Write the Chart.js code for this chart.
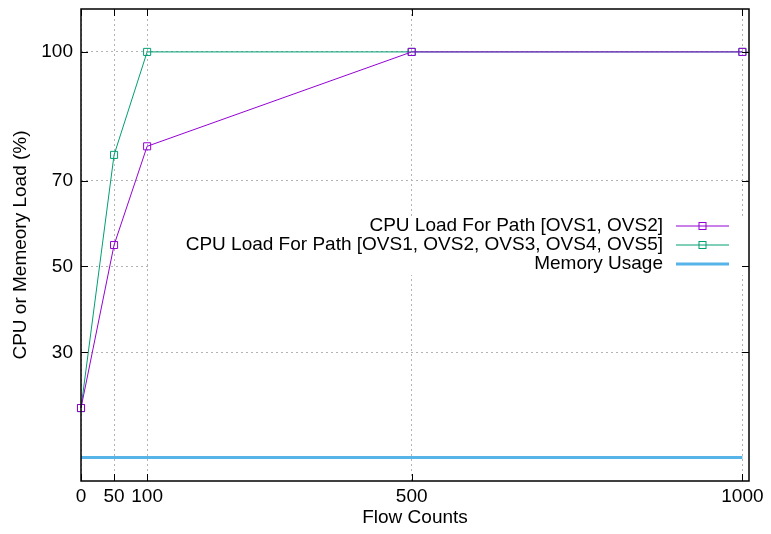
<!DOCTYPE html>
<html>
<head>
<meta charset="utf-8">
<script src="https://cdn.jsdelivr.net/npm/chart.js@4/dist/chart.umd.min.js"></script>
<style>
  html, body { margin: 0; padding: 0; background: #fff; }
  #wrap { width: 771px; height: 534px; }
</style>
</head>
<body>
<div id="wrap"><canvas id="chart" width="771" height="534"></canvas></div>
<script>
// values
const flowCounts = [0, 50, 100, 500, 1000];
const cpuTwoSwitches = [17, 55, 78, 100, 100];
const cpuFiveSwitches = [17, 76, 100, 100, 100];
const memoryUsage = [5.5, 5.5, 5.5, 5.5, 5.5];
const xTicks = [0, 50, 100, 500, 1000];
const yTicks = [30, 50, 70, 100];
const seriesLabels = [
  'CPU Load For Path [OVS1, OVS2]',
  'CPU Load For Path [OVS1, OVS2, OVS3, OVS4, OVS5]',
  'Memory Usage'
];
const seriesColors = ['#9400d3', '#009e73', '#56b4e9'];

const toPoints = (ys) => flowCounts.map((x, i) => ({ x, y: ys[i] }));

Chart.defaults.font.family = '"Liberation Sans", Arial, Helvetica, sans-serif';
Chart.defaults.font.size = 19;
Chart.defaults.color = '#000';

// gnuplot-like key, opaque so it hides the grid behind it
const gnuKey = {
  id: 'gnuKey',
  beforeDatasetsDraw(chart) {
    const { ctx, chartArea: a } = chart;
    const textRight = a.right - 86;
    const sampleL = a.right - 73, sampleR = a.right - 20;
    const rowY = [226, 245, 264];
    ctx.save();
    ctx.font = '19px "Liberation Sans", Arial, Helvetica, sans-serif';
    const widest = Math.max(...seriesLabels.map(t => ctx.measureText(t).width));
    const boxL = textRight - widest - 36;
    ctx.fillStyle = '#fff';
    ctx.fillRect(boxL, rowY[0] - 10, a.right - 4 - boxL, rowY[2] - rowY[0] + 21);
    ctx.textAlign = 'right';
    ctx.textBaseline = 'middle';
    chart.data.datasets.forEach((ds, i) => {
      const y = rowY[i];
      ctx.fillStyle = '#000';
      ctx.fillText(ds.label, textRight, y);
      ctx.strokeStyle = ds.borderColor;
      ctx.lineWidth = ds.borderWidth;
      ctx.beginPath();
      ctx.moveTo(sampleL, y);
      ctx.lineTo(sampleR, y);
      ctx.stroke();
      if (ds.pointRadius > 0) {
        ctx.lineWidth = 1;
        const mid = (sampleL + sampleR) / 2;
        ctx.strokeRect(mid - 3.5, y - 3.5, 7, 7);
      }
    });
    ctx.restore();
  }
};

// closed frame with inward ticks on all four sides
const frame = {
  id: 'frame',
  afterDraw(chart) {
    const { ctx, chartArea: a, scales: { x, y } } = chart;
    ctx.save();
    ctx.strokeStyle = '#000';
    ctx.lineWidth = 1;
    ctx.beginPath();
    xTicks.forEach(v => {
      const px = Math.round(x.getPixelForValue(v)) + 0.5;
      ctx.moveTo(px, a.bottom); ctx.lineTo(px, a.bottom - 7);
      ctx.moveTo(px, a.top); ctx.lineTo(px, a.top + 7);
    });
    yTicks.forEach(v => {
      const py = Math.round(y.getPixelForValue(v)) + 0.5;
      ctx.moveTo(a.left, py); ctx.lineTo(a.left + 7, py);
      ctx.moveTo(a.right, py); ctx.lineTo(a.right - 7, py);
    });
    ctx.stroke();
    ctx.lineWidth = 1.5;
    ctx.strokeRect(a.left, a.top, a.right - a.left, a.bottom - a.top);
    ctx.restore();
  }
};

const grid = { color: '#b4b4b4', lineWidth: 1, drawTicks: false };
const border = { display: false, dash: [2, 3] };
const noPad = s => { s.paddingTop = 0; s.paddingBottom = 0; s.paddingLeft = 0; s.paddingRight = 0; };

new Chart(document.getElementById('chart'), {
  type: 'line',
  data: {
    datasets: [
      {
        label: seriesLabels[0],
        data: toPoints(cpuTwoSwitches),
        borderColor: seriesColors[0],
        borderWidth: 1,
        pointStyle: 'rect',
        pointRadius: 5,
        pointBorderWidth: 1,
        pointBorderColor: seriesColors[0],
        pointBackgroundColor: 'transparent',
        clip: false
      },
      {
        label: seriesLabels[1],
        data: toPoints(cpuFiveSwitches),
        borderColor: seriesColors[1],
        borderWidth: 1,
        pointStyle: 'rect',
        pointRadius: 5,
        pointBorderWidth: 1,
        pointBorderColor: seriesColors[1],
        pointBackgroundColor: 'transparent',
        clip: false
      },
      {
        label: seriesLabels[2],
        data: toPoints(memoryUsage),
        borderColor: seriesColors[2],
        borderWidth: 3,
        pointRadius: 0,
        clip: false
      }
    ]
  },
  options: {
    responsive: false,
    animation: false,
    layout: { padding: { top: 9, right: 22, left: 0, bottom: 0 } },
    plugins: { legend: { display: false }, tooltip: { enabled: false } },
    scales: {
      x: {
        type: 'linear',
        min: 0,
        max: 1010,
        grid, border,
        afterBuildTicks: s => { s.ticks = xTicks.map(value => ({ value })); },
        afterFit: s => { s.height = 53; noPad(s); },
        ticks: { padding: 4, autoSkip: false, maxRotation: 0, callback: v => String(v) },
        title: { display: true, text: 'Flow Counts', padding: { top: 0, bottom: 5 } }
      },
      y: {
        min: 0,
        max: 110,
        grid, border,
        afterBuildTicks: s => { s.ticks = yTicks.map(value => ({ value })); },
        afterFit: s => { s.width = 81; noPad(s); },
        ticks: { padding: 8, autoSkip: false, callback: v => String(v) },
        title: { display: true, text: 'CPU or Memeory Load (%)', padding: { top: 9, bottom: 0 } }
      }
    }
  },
  plugins: [gnuKey, frame]
});
</script>
</body>
</html>
